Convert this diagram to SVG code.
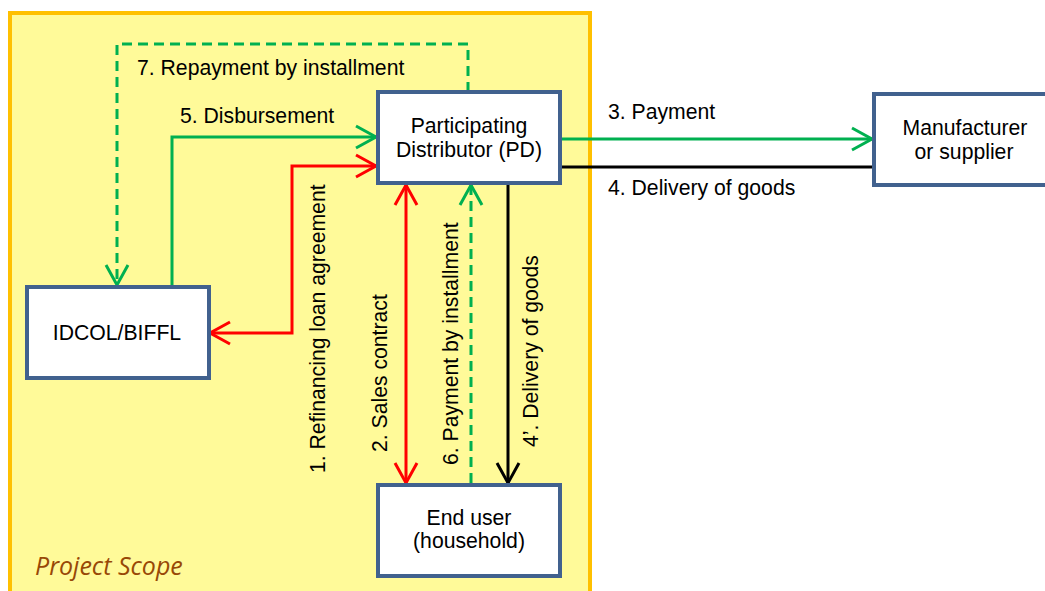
<svg xmlns="http://www.w3.org/2000/svg" width="1045" height="591" viewBox="0 0 1045 591">
  <style>
    .box { fill: #ffffff; stroke: #41618E; stroke-width: 4; }
    .t { font-family: "Liberation Sans", Arial, sans-serif; font-size: 21.2px; fill: #000000; }
    .c { text-anchor: middle; }
    .ln { fill: none; stroke-width: 3; }
    .g { stroke: #00B050; }
    .r { stroke: #FF0000; }
    .k { stroke: #000000; }
    .d { stroke-dasharray: 10 6; }
    .scope { font-family: "Open Sans", Lato, sans-serif; font-style: italic; font-size: 25px; fill: #984806; }
  </style>
  <defs>
    <marker id="ag" markerUnits="userSpaceOnUse" markerWidth="30" markerHeight="30" viewBox="-24 -15 30 30" refX="0" refY="0" orient="auto-start-reverse">
      <path d="M-20,-11 L0,0 L-20,11" fill="none" stroke="#00B050" stroke-width="3"/>
    </marker>
    <marker id="ar" markerUnits="userSpaceOnUse" markerWidth="30" markerHeight="30" viewBox="-24 -15 30 30" refX="0" refY="0" orient="auto-start-reverse">
      <path d="M-20,-11 L0,0 L-20,11" fill="none" stroke="#FF0000" stroke-width="3"/>
    </marker>
    <marker id="ak" markerUnits="userSpaceOnUse" markerWidth="30" markerHeight="30" viewBox="-24 -15 30 30" refX="0" refY="0" orient="auto-start-reverse">
      <path d="M-20,-11 L0,0 L-20,11" fill="none" stroke="#000000" stroke-width="3"/>
    </marker>
  </defs>

  <rect x="0" y="0" width="1045" height="591" fill="#ffffff"/>

  <g id="scope">
    <rect x="10" y="13" width="580" height="620" fill="#FFFA99" stroke="#FFC000" stroke-width="4"/>
    <text class="scope" x="35" y="575">Project Scope</text>
  </g>

  <g id="connectors">
    <!-- 7 repayment -->
    <path class="ln g d" d="M468,92 V44 H117 V285" marker-end="url(#ag)"/>
    <!-- 5 disbursement -->
    <path class="ln g" d="M172,287 V137 H376" marker-end="url(#ag)"/>
    <!-- 1 refinancing -->
    <path class="ln r" d="M376,166 H292 V333 H210" marker-start="url(#ar)" marker-end="url(#ar)"/>
    <!-- 2 sales contract -->
    <path class="ln r" d="M406,185 V483" marker-start="url(#ar)" marker-end="url(#ar)"/>
    <!-- 6 payment by installment -->
    <path class="ln g d" d="M471,483 V185" marker-end="url(#ag)"/>
    <!-- 4' delivery -->
    <path class="ln k" d="M508,185 V483" marker-end="url(#ak)"/>
    <!-- 3 payment -->
    <path class="ln g" d="M561,139 H872" marker-end="url(#ag)"/>
    <!-- 4 delivery -->
    <path class="ln k" d="M561,167 H874"/>

    <text class="t" x="137" y="75">7. Repayment by installment</text>
    <text class="t" x="180" y="123">5. Disbursement</text>
    <text class="t" x="608" y="119">3. Payment</text>
    <text class="t" x="608" y="195">4. Delivery of goods</text>
    <text class="t" transform="translate(325,473) rotate(-90)">1. Refinancing loan agreement</text>
    <text class="t" transform="translate(387,452) rotate(-90)">2. Sales contract</text>
    <text class="t" transform="translate(458,465) rotate(-90)">6. Payment by installment</text>
    <text class="t" transform="translate(538,447) rotate(-90)">4’. Delivery of goods</text>
  </g>

  <g id="pd">
    <rect class="box" x="378" y="92" width="182" height="91"/>
    <text class="t c" x="469" y="133">Participating</text>
    <text class="t c" x="469" y="157">Distributor (PD)</text>
  </g>

  <g id="manufacturer">
    <rect class="box" x="874" y="94" width="182" height="91"/>
    <text class="t c" x="965" y="135">Manufacturer</text>
    <text class="t c" x="964" y="159">or supplier</text>
  </g>

  <g id="idcol">
    <rect class="box" x="27" y="287" width="182" height="91"/>
    <text class="t c" x="117" y="340">IDCOL/BIFFL</text>
  </g>

  <g id="enduser">
    <rect class="box" x="378" y="485" width="182" height="91"/>
    <text class="t c" x="469" y="525">End user</text>
    <text class="t c" x="469" y="548">(household)</text>
  </g>
</svg>
